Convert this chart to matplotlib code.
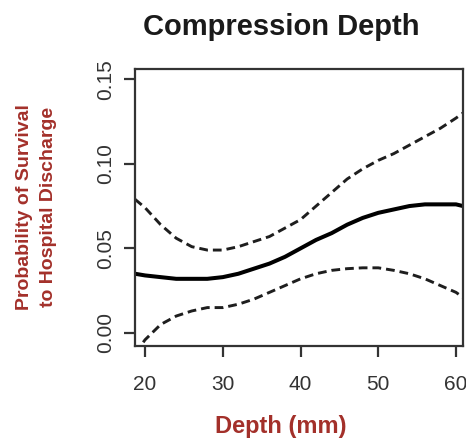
import matplotlib
matplotlib.use("Agg")
import matplotlib.pyplot as plt

plt.rcParams['font.family'] = ['Liberation Sans', 'DejaVu Sans']

depth = [18.7, 20, 22, 24, 26, 28, 30, 32, 34, 36, 38, 40, 42, 44, 46, 48, 50, 52, 54, 56, 58, 60, 60.9]
fit = [0.035, 0.034, 0.033, 0.032, 0.032, 0.032, 0.033, 0.035, 0.038, 0.041, 0.045, 0.050,
       0.055, 0.059, 0.064, 0.068, 0.071, 0.073, 0.075, 0.076, 0.076, 0.076, 0.075]
upper = [0.079, 0.074, 0.064, 0.056, 0.051, 0.049, 0.049, 0.051, 0.054, 0.057, 0.062, 0.067,
         0.075, 0.083, 0.091, 0.097, 0.102, 0.106, 0.111, 0.116, 0.121, 0.127, 0.130]
lower = [-0.012, -0.004, 0.005, 0.010, 0.013, 0.015, 0.015, 0.017, 0.020, 0.024, 0.028, 0.032,
         0.035, 0.037, 0.038, 0.0385, 0.0385, 0.037, 0.035, 0.032, 0.028, 0.024, 0.021]
xticks = [20, 30, 40, 50, 60]
yticks = [0.00, 0.05, 0.10, 0.15]
ytick_labels = ["0.00", "0.05", "0.10", "0.15"]

W, H = 466, 438
fig = plt.figure(figsize=(W / 100, H / 100), dpi=100)
ax = fig.add_axes([135 / W, 1 - 346 / H, (463 - 135) / W, (346 - 69) / H])

ax.plot(depth, fit, color='black', lw=2.9, solid_capstyle='butt', solid_joinstyle='round')
ax.plot(depth, upper, color='#1e1e1e', lw=2.1, dashes=(3.0, 1.7))
ax.plot(depth, lower, color='#1e1e1e', lw=2.1, dashes=(3.0, 1.7))

ax.set_xlim(18.7, 60.9)
ax.set_ylim(-0.0077, 0.156)
ax.set_xticks(xticks)
ax.set_xticklabels([str(v) for v in xticks])
ax.set_yticks(yticks)
ax.set_yticklabels(ytick_labels, rotation=90, va='center')

for s in ax.spines.values():
    s.set_linewidth(1.6)
    s.set_color('#333333')
ax.tick_params(axis='both', length=8, width=1.6, color='#333333',
               labelsize=15, labelcolor='#333333')
ax.tick_params(axis='x', pad=13)
ax.tick_params(axis='y', pad=6)

red = '#a3302a'
fig.text(281 / W, 1 - 27 / H, "Compression Depth", ha='center', va='center',
         fontsize=21, fontweight='bold', color='#1a1a1a')
fig.text(281 / W, 1 - 426 / H, "Depth (mm)", ha='center', va='center',
         fontsize=17, fontweight='bold', color=red)
fig.text(25 / W, 1 - 207 / H, "Probability of Survival", ha='center', va='center',
         rotation=90, fontsize=14, fontweight='bold', color=red)
fig.text(49 / W, 1 - 207 / H, "to Hospital Discharge", ha='center', va='center',
         rotation=90, fontsize=14, fontweight='bold', color=red)

fig.savefig("out.png", dpi=100, facecolor='white')
